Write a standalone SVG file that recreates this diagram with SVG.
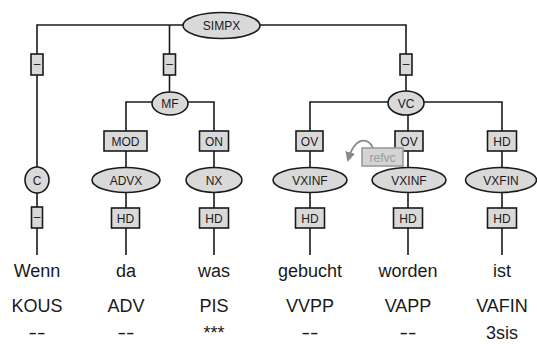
<svg xmlns="http://www.w3.org/2000/svg" width="537" height="344" viewBox="0 0 537 344">
<defs>
<style>
.ln{stroke:#1a1a1a;stroke-width:1.6;fill:none}
.nd{fill:#d9d9d9;stroke:#1a1a1a;stroke-width:1.6}
.bx{fill:#d9d9d9;stroke:#1a1a1a;stroke-width:1.6}
.t{font-family:"Liberation Sans",Arial,sans-serif;font-size:12px;fill:#1a1a1a;text-anchor:middle}
.w{font-family:"Liberation Sans",Arial,sans-serif;font-size:18px;fill:#1a1a1a;text-anchor:middle}
.sec{fill:#d4d4d4;stroke:#9a9a9a;stroke-width:1.6}
.st{font-family:"Liberation Sans",Arial,sans-serif;font-size:12px;fill:#9a9a9a;text-anchor:middle}
</style>
<marker id="ah" viewBox="0 0 10 10" refX="8" refY="5" markerWidth="5.5" markerHeight="5.5" orient="auto" markerUnits="strokeWidth">
<path d="M0,0 L10,5 L0,10 z" fill="#8a8a8a"/>
</marker>
</defs>
<rect width="537" height="344" fill="#ffffff"/>
<g id="connectors">
<path class="ln" d="M37,255 V25 H406 V103"/>
<path class="ln" d="M169.5,25 V103"/>
<path class="ln" d="M126,255 V102 H214 V255"/>
<path class="ln" d="M310,255 V102 H502 V255"/>
<path class="ln" d="M408,102 V255"/>
<path d="M373,148 C368,137 355,136 348,160" fill="none" stroke="#8a8a8a" stroke-width="1.8" marker-end="url(#ah)"/>
</g>
<g id="edge-labels">
<rect class="bx" x="31" y="54" width="12" height="21"/><text class="t" x="37" y="68">–</text>
<rect class="bx" x="163.5" y="54" width="12" height="21"/><text class="t" x="169.5" y="68">–</text>
<rect class="bx" x="400" y="54" width="12" height="21"/><text class="t" x="406" y="68">–</text>
<rect class="bx" x="104" y="131" width="43" height="20"/><text class="t" x="125.5" y="145.5">MOD</text>
<rect class="bx" x="199.5" y="131" width="29" height="20"/><text class="t" x="214" y="145.5">ON</text>
<rect class="bx" x="296" y="131" width="27" height="20"/><text class="t" x="309.5" y="145.5">OV</text>
<rect class="bx" x="395" y="131" width="28" height="20"/><text class="t" x="409" y="145.5">OV</text>
<rect class="bx" x="487.5" y="131" width="29" height="20"/><text class="t" x="502" y="145.5">HD</text>
<rect class="bx" x="31.5" y="207" width="11" height="21"/><text class="t" x="37" y="221">–</text>
<rect class="bx" x="111.5" y="208" width="28" height="20"/><text class="t" x="125.5" y="222.5">HD</text>
<rect class="bx" x="199.5" y="208" width="29" height="20"/><text class="t" x="214" y="222.5">HD</text>
<rect class="bx" x="295.5" y="208" width="29" height="20"/><text class="t" x="310" y="222.5">HD</text>
<rect class="bx" x="393.5" y="208" width="29" height="20"/><text class="t" x="408" y="222.5">HD</text>
<rect class="bx" x="487.5" y="208" width="29" height="20"/><text class="t" x="502" y="222.5">HD</text>
</g>
<g id="secedge-label">
<rect class="sec" x="362" y="148" width="41" height="18"/><text class="st" x="382.5" y="161.5">refvc</text>
</g>
<g id="n-SIMPX"><ellipse class="nd" cx="221.5" cy="25.5" rx="38.5" ry="13"/><text class="t" x="221.5" y="30">SIMPX</text></g>
<g id="n-MF"><ellipse class="nd" cx="170" cy="103.5" rx="18" ry="11.5"/><text class="t" x="170" y="108">MF</text></g>
<g id="n-VC"><ellipse class="nd" cx="406" cy="103" rx="18" ry="12"/><text class="t" x="406" y="107.5">VC</text></g>
<g id="n-C"><ellipse class="nd" cx="37" cy="180" rx="12" ry="13"/><text class="t" x="37" y="184.5">C</text></g>
<g id="n-ADVX"><ellipse class="nd" cx="126" cy="180" rx="34" ry="12.5"/><text class="t" x="126" y="184.5">ADVX</text></g>
<g id="n-NX"><ellipse class="nd" cx="214" cy="180" rx="28" ry="12.5"/><text class="t" x="214" y="184.5">NX</text></g>
<g id="n-VXINF1"><ellipse class="nd" cx="310" cy="180" rx="37" ry="12.5"/><text class="t" x="310" y="184.5">VXINF</text></g>
<g id="n-VXINF2"><ellipse class="nd" cx="409" cy="180" rx="37" ry="12.5"/><text class="t" x="409" y="184.5">VXINF</text></g>
<g id="n-VXFIN"><ellipse class="nd" cx="501" cy="180" rx="35.5" ry="12.5"/><text class="t" x="501" y="184.5">VXFIN</text></g>
<g id="t-Wenn"><text class="w" x="37" y="277">Wenn</text><text class="w" x="37" y="312">KOUS</text><text class="w" x="37" y="339" textLength="17" lengthAdjust="spacingAndGlyphs">--</text></g>
<g id="t-da"><text class="w" x="126" y="277">da</text><text class="w" x="126" y="312">ADV</text><text class="w" x="126" y="339" textLength="17" lengthAdjust="spacingAndGlyphs">--</text></g>
<g id="t-was"><text class="w" x="214" y="277">was</text><text class="w" x="214" y="312">PIS</text><text class="w" x="214" y="339">***</text></g>
<g id="t-gebucht"><text class="w" x="310" y="277">gebucht</text><text class="w" x="310" y="312">VVPP</text><text class="w" x="310" y="339" textLength="17" lengthAdjust="spacingAndGlyphs">--</text></g>
<g id="t-worden"><text class="w" x="408" y="277">worden</text><text class="w" x="408" y="312">VAPP</text><text class="w" x="408" y="339" textLength="17" lengthAdjust="spacingAndGlyphs">--</text></g>
<g id="t-ist"><text class="w" x="502" y="277">ist</text><text class="w" x="502" y="312">VAFIN</text><text class="w" x="502" y="339">3sis</text></g>
</svg>
